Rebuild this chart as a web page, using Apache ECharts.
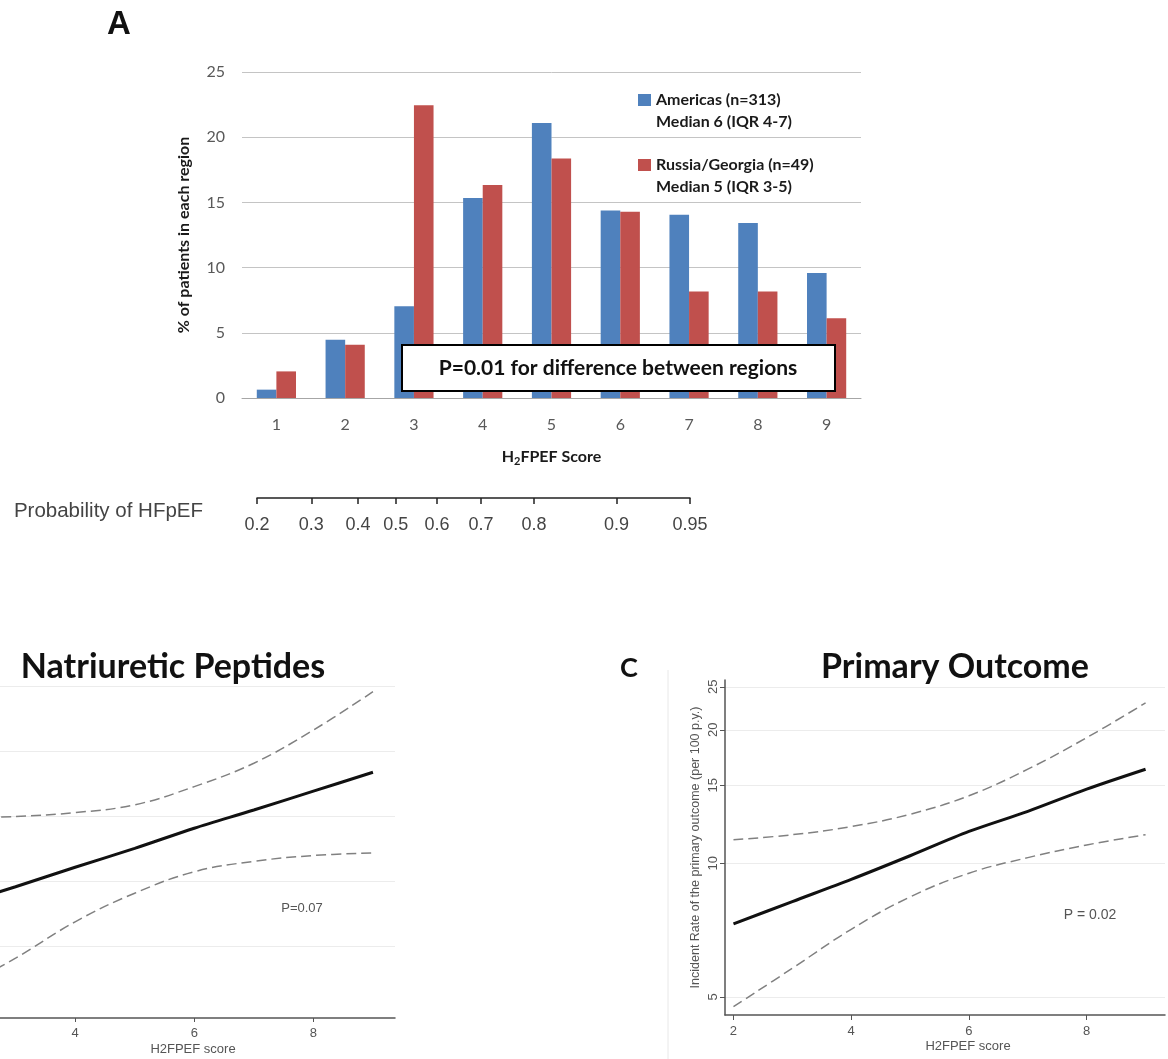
<!DOCTYPE html>
<html>
<head>
<meta charset="utf-8">
<title>H2FPEF score by region</title>
<script src="https://cdn.jsdelivr.net/npm/echarts@6/dist/echarts.min.js"></script>
<style>
  html, body { margin: 0; padding: 0; background: #fff; }
  #chart { width: 1168px; height: 1059px; }
</style>
</head>
<body>
<div id="chart"></div>
<script>
  // A: % of patients in each region by score
  var scores = ['1', '2', '3', '4', '5', '6', '7', '8', '9'];
  var americas = [0.64, 4.47, 7.03, 15.34, 21.09, 14.38, 14.06, 13.42, 9.58];
  var russiaGeorgia = [2.04, 4.08, 22.45, 16.33, 18.37, 14.29, 8.16, 8.16, 6.12];

  // probability of HFpEF, where each tick sits on the score scale
  var probLabels = ['0.2', '0.3', '0.4', '0.5', '0.6', '0.7', '0.8', '0.9', '0.95'];
  var probPos = [0.71, 1.5, 2.18, 2.73, 3.33, 3.97, 4.74, 5.94, 7.01];

  var xScore = [2, 3, 4, 5, 6, 7, 8, 9];
  var scoreTicks = [2, 4, 6, 8];

  // B: natriuretic peptides (y axis cut off, gridline units)
  var npFit = [1.63, 1.92, 2.22, 2.51, 2.82, 3.10, 3.39, 3.68];
  var npUpper = [2.97, 3.00, 3.06, 3.18, 3.46, 3.82, 4.33, 4.92];
  var npLower = [0.33, 0.82, 1.38, 1.82, 2.15, 2.31, 2.40, 2.44];
  var npGrid = [1, 2, 3, 4, 5];

  // C: incident rate of the primary outcome (per 100 p.y.)
  var poFit = [7.3, 8.2, 9.2, 10.4, 11.8, 13.1, 14.7, 16.3];
  var poUpper = [11.3, 11.6, 12.1, 12.9, 14.2, 16.3, 19.2, 23.0];
  var poLower = [4.75, 5.8, 7.1, 8.4, 9.5, 10.3, 11.0, 11.6];
  var poTicks = [5, 10, 15, 20, 25];

  function pairs(ys) {
    return xScore.map(function (x, i) { return [x, ys[i]]; });
  }

  var calibri = 'Lato, "Open Sans", sans-serif';
  var arial = '"Liberation Sans", Arial, sans-serif';

  var chart = echarts.init(document.getElementById('chart'));

  var fitLine = { color: '#111', width: 3 };
  var ciLine = { color: '#808080', width: 1.5, type: [10, 5] };

  var option = {
    animation: false,
    backgroundColor: '#fff',
    legend: {
      data: ['Americas (n=313)', 'Russia/Georgia (n=49)'],
      orient: 'vertical',
      left: 638,
      top: 90,
      padding: 0,
      itemGap: 45,
      itemWidth: 13,
      itemHeight: 12,
      icon: 'rect',
      selectedMode: false,
      textStyle: { fontFamily: calibri, fontWeight: 'bold', fontSize: 16, color: '#1a1a1a', lineHeight: 20 }
    },
    grid: [
      { left: 242, right: 307, top: 72, bottom: 661, outerBoundsMode: 'none', containLabel: false },
      { left: 257, right: 478, top: 497, height: 1, outerBoundsMode: 'none', containLabel: false },
      { left: -44, right: 773, top: 680, bottom: 41, outerBoundsMode: 'none', containLabel: false },
      { left: 725, right: 3, top: 680, bottom: 44, outerBoundsMode: 'none', containLabel: false }
    ],
    xAxis: [
      {
        gridIndex: 0,
        type: 'category',
        data: scores,
        axisLine: { lineStyle: { color: '#a6a6a6', width: 1 } },
        axisTick: { show: false },
        axisLabel: { fontFamily: calibri, fontSize: 16, color: '#595959', margin: 19 },
        name: '{n|H}{s|2}{n|FPEF Score}',
        nameLocation: 'middle',
        nameGap: 49,
        nameTextStyle: {
          rich: {
            n: { fontFamily: calibri, fontWeight: 'bold', fontSize: 16, color: '#1a1a1a', lineHeight: 20 },
            s: { fontFamily: calibri, fontWeight: 'bold', fontSize: 11, color: '#1a1a1a', lineHeight: 20, verticalAlign: 'bottom' }
          }
        }
      },
      {
        gridIndex: 1,
        type: 'value',
        min: probPos[0],
        max: probPos[probPos.length - 1],
        axisLine: { onZero: false, lineStyle: { color: '#222', width: 1.5 } },
        axisTick: { customValues: probPos, length: 6, lineStyle: { color: '#222', width: 1.5 } },
        axisLabel: {
          customValues: probPos,
          fontFamily: arial,
          fontSize: 18,
          color: '#444',
          margin: 18,
          formatter: function (v) {
            for (var i = 0; i < probPos.length; i++) {
              if (Math.abs(probPos[i] - v) < 1e-6) return probLabels[i];
            }
            return '';
          }
        },
        splitLine: { show: false }
      },
      {
        gridIndex: 2,
        type: 'value',
        min: 2,
        max: 9.37,
        axisLine: { onZero: false, lineStyle: { color: '#555', width: 1.5 } },
        axisTick: { customValues: scoreTicks, length: 4, lineStyle: { color: '#555' } },
        axisLabel: { customValues: scoreTicks, fontFamily: arial, fontSize: 13, color: '#555', margin: 9 },
        splitLine: { show: false },
        name: 'H2FPEF score',
        nameLocation: 'middle',
        nameGap: 25,
        nameTextStyle: { fontFamily: arial, fontSize: 13, color: '#555', padding: [0, 0, 0, 35] }
      },
      {
        gridIndex: 3,
        type: 'value',
        min: 1.856,
        max: 9.33,
        axisLine: { onZero: false, lineStyle: { color: '#555', width: 1.5 } },
        axisTick: { customValues: scoreTicks, length: 5, lineStyle: { color: '#555' } },
        axisLabel: { customValues: scoreTicks, fontFamily: arial, fontSize: 13, color: '#555', margin: 10 },
        splitLine: { show: false },
        name: 'H2FPEF score',
        nameLocation: 'middle',
        nameGap: 25,
        nameTextStyle: { fontFamily: arial, fontSize: 13, color: '#555', padding: [0, 0, 0, 46] }
      }
    ],
    yAxis: [
      {
        gridIndex: 0,
        type: 'value',
        min: 0,
        max: 25,
        interval: 5,
        axisLine: { show: false },
        axisTick: { show: false },
        axisLabel: { fontFamily: calibri, fontSize: 16, color: '#595959', margin: 17 },
        splitLine: { lineStyle: { color: '#c4c4c4', width: 1 } },
        name: '% of patients in each region',
        nameLocation: 'middle',
        nameRotate: 90,
        nameGap: 50,
        nameTextStyle: { fontFamily: calibri, fontWeight: 'bold', fontSize: 16, color: '#1a1a1a' }
      },
      { gridIndex: 1, type: 'value', min: 0, max: 1, show: false },
      {
        gridIndex: 2,
        type: 'value',
        min: -0.1,
        max: 5.1,
        axisLine: { show: false },
        axisTick: { show: false, customValues: npGrid },
        axisLabel: { show: false },
        splitLine: { show: true, lineStyle: { color: '#ececec', width: 1 } }
      },
      {
        gridIndex: 3,
        type: 'log',
        logBase: 10,
        min: 4.55,
        max: 25.9,
        axisLine: { show: true, onZero: false, lineStyle: { color: '#555', width: 1.5 } },
        axisTick: { show: true, customValues: poTicks, length: 5, lineStyle: { color: '#555' } },
        axisLabel: { customValues: poTicks, rotate: 90, fontFamily: arial, fontSize: 13, color: '#555', margin: 5 },
        splitLine: { show: true, lineStyle: { color: '#ececec', width: 1 } },
        name: 'Incident Rate of the primary outcome (per 100 p.y.)',
        nameLocation: 'middle',
        nameRotate: 90,
        nameGap: 23,
        nameTextStyle: { fontFamily: arial, fontSize: 12.5, color: '#555' }
      }
    ],
    series: [
      {
        name: 'Americas (n=313)',
        type: 'bar',
        xAxisIndex: 0,
        yAxisIndex: 0,
        data: americas,
        barGap: '0%',
        barCategoryGap: '43%',
        itemStyle: { color: '#4F81BD' }
      },
      {
        name: 'Russia/Georgia (n=49)',
        type: 'bar',
        xAxisIndex: 0,
        yAxisIndex: 0,
        data: russiaGeorgia,
        barGap: '0%',
        barCategoryGap: '43%',
        itemStyle: { color: '#C0504D' }
      },
      { type: 'line', xAxisIndex: 2, yAxisIndex: 2, data: pairs(npUpper), symbol: 'none', smooth: 0.4, lineStyle: ciLine },
      { type: 'line', xAxisIndex: 2, yAxisIndex: 2, data: pairs(npLower), symbol: 'none', smooth: 0.4, lineStyle: ciLine },
      { type: 'line', xAxisIndex: 2, yAxisIndex: 2, data: pairs(npFit), symbol: 'none', smooth: 0.3, lineStyle: fitLine },
      { type: 'line', xAxisIndex: 3, yAxisIndex: 3, data: pairs(poUpper), symbol: 'none', smooth: 0.4, lineStyle: ciLine },
      { type: 'line', xAxisIndex: 3, yAxisIndex: 3, data: pairs(poLower), symbol: 'none', smooth: 0.4, lineStyle: ciLine },
      { type: 'line', xAxisIndex: 3, yAxisIndex: 3, data: pairs(poFit), symbol: 'none', smooth: 0.3, lineStyle: fitLine }
    ],
    graphic: [
      { type: 'text', x: 119, y: 25, style: { text: 'A', font: 'bold 33px ' + arial, fill: '#111', align: 'center', verticalAlign: 'middle' } },
      { type: 'text', x: 656, y: 122, style: { text: 'Median 6 (IQR 4-7)', font: 'bold 16px ' + calibri, fill: '#1a1a1a', align: 'left', verticalAlign: 'middle' } },
      { type: 'text', x: 656, y: 187, style: { text: 'Median 5 (IQR 3-5)', font: 'bold 16px ' + calibri, fill: '#1a1a1a', align: 'left', verticalAlign: 'middle' } },
      {
        type: 'group',
        z: 100,
        children: [
          { type: 'rect', z: 100, shape: { x: 402, y: 345, width: 433, height: 46 }, style: { fill: '#fff', stroke: '#000', lineWidth: 2 } },
          { type: 'text', z: 101, x: 618, y: 368, style: { text: 'P=0.01 for difference between regions', font: 'bold 21px ' + calibri, fill: '#111', align: 'center', verticalAlign: 'middle' } }
        ]
      },
      { type: 'text', x: 203, y: 511, style: { text: 'Probability of HFpEF', font: '20.5px ' + arial, fill: '#444', align: 'right', verticalAlign: 'middle' } },
      { type: 'text', x: 173, y: 667, style: { text: 'Natriuretic Peptides', font: 'bold 34px ' + calibri, fill: '#111', align: 'center', verticalAlign: 'middle' } },
      { type: 'text', x: 629, y: 668, style: { text: 'C', font: 'bold 27px ' + calibri, fill: '#111', align: 'center', verticalAlign: 'middle' } },
      { type: 'text', x: 955, y: 667, style: { text: 'Primary Outcome', font: 'bold 34px ' + calibri, fill: '#111', align: 'center', verticalAlign: 'middle' } },
      { type: 'text', x: 302, y: 908, style: { text: 'P=0.07', font: '13px ' + arial, fill: '#555', align: 'center', verticalAlign: 'middle' } },
      { type: 'text', x: 1090, y: 915, style: { text: 'P = 0.02', font: '14px ' + arial, fill: '#555', align: 'center', verticalAlign: 'middle' } },
      { type: 'line', shape: { x1: 668, y1: 670, x2: 668, y2: 1059 }, style: { stroke: '#e8e8e8', lineWidth: 1 } }
    ]
  };

  chart.setOption(option);
</script>
</body>
</html>
